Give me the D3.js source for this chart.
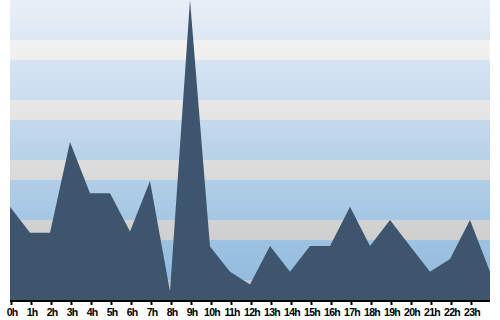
<!DOCTYPE html>
<html>
<head>
<meta charset="utf-8">
<script src="https://cdn.jsdelivr.net/npm/d3@7"></script>
<style>
body{margin:0;background:#fff;}
.axis text{font-family:"Liberation Sans",Arial,sans-serif;font-weight:bold;font-size:10.5px;letter-spacing:-0.7px;}
</style>
</head>
<body>
<div id="chart"></div>
<script>
// data: one value per hour, last point closes the day
var hours = d3.range(0, 25);
var tickLabels = ["0h","1h","2h","3h","4h","5h","6h","7h","8h","9h","10h","11h","12h","13h","14h","15h","16h","17h","18h","19h","20h","21h","22h","23h"];
var values = [31.1,22.4,22.4,52.7,35.6,35.6,22.8,39.7,2.8,100,17.8,9.4,5.2,18,9.4,18,18,31.1,18,26.7,18,9.4,13.7,26.7,9.4];
var bandStarts = [0,20,40,60,80]; // value where each gray stripe begins
var bandSize = 20/3;

var width = 500, height = 320;
var svg = d3.select("#chart").append("svg").attr("width", width).attr("height", height);

var xScale = d3.scaleLinear().domain([0,24]).range([10,490]);
var yScale = d3.scaleLinear().domain([0,100]).range([300,0]);

var defs = svg.append("defs");
var bg = defs.append("linearGradient").attr("id","bgGrad")
    .attr("gradientUnits","userSpaceOnUse").attr("x1",0).attr("y1",0).attr("x2",0).attr("y2",300);
bg.append("stop").attr("offset","0%").attr("stop-color","#e9eff7");
bg.append("stop").attr("offset","100%").attr("stop-color","#8cb8dc");
var gr = defs.append("linearGradient").attr("id","bandGrad")
    .attr("gradientUnits","userSpaceOnUse").attr("x1",0).attr("y1",0).attr("x2",0).attr("y2",300);
gr.append("stop").attr("offset","0%").attr("stop-color","#f9f9f9");
gr.append("stop").attr("offset","100%").attr("stop-color","#c4c4c4");

// background
svg.append("rect")
    .attr("x",xScale(0)).attr("y",yScale(100))
    .attr("width",xScale(24)-xScale(0)).attr("height",yScale(0)-yScale(100))
    .attr("fill","url(#bgGrad)");

// stripes
svg.selectAll(".band").data(bandStarts).enter().append("rect")
    .attr("class","band")
    .attr("x",xScale(0))
    .attr("y",function(d){ return yScale(d+bandSize); })
    .attr("width",xScale(24)-xScale(0))
    .attr("height",yScale(0)-yScale(bandSize))
    .attr("fill","url(#bandGrad)");

// area
var area = d3.area()
    .x(function(d,i){ return xScale(hours[i]); })
    .y0(yScale(0))
    .y1(function(d){ return yScale(d); });

svg.append("path")
    .datum(values)
    .attr("d", area)
    .attr("fill","#3e556e");

// x axis
var xAxis = d3.axisBottom(xScale)
    .tickValues(d3.range(0,24))
    .tickFormat(function(d){ return tickLabels[d]; })
    .tickSize(5)
    .tickPadding(4);

var gx = svg.append("g").attr("class","axis")
    .attr("transform","translate(0,300)")
    .call(xAxis);
gx.select(".domain").attr("stroke","#000").attr("stroke-width",2).attr("d","M10,1H490");
gx.selectAll(".tick line").attr("stroke","#000").attr("stroke-width",2).attr("transform","translate(1,0)");
gx.selectAll(".tick text").attr("fill","#000").attr("dx","0.15em");
</script>
</body>
</html>
